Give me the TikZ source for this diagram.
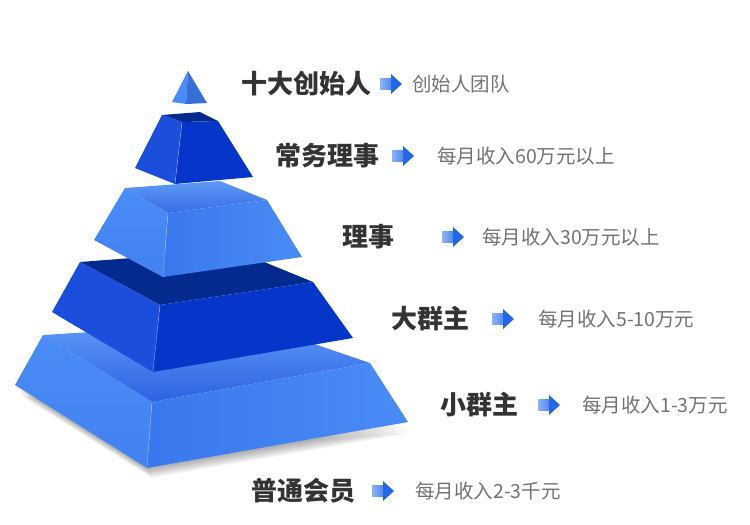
\documentclass[tikz,border=0pt]{standalone}
\usepackage{fontspec}
\usepackage{tikz}
\newfontfamily\cjk{Noto Sans CJK SC}

\definecolor{lightL}{HTML}{4A8CF6}
\definecolor{lightR}{HTML}{3C7CEF}
\definecolor{lightTa}{HTML}{5E9AF6}
\definecolor{lightTb}{HTML}{2C62E2}
\definecolor{darkL}{HTML}{1A4EDB}
\definecolor{darkR}{HTML}{0636C9}
\definecolor{darkT}{HTML}{042A90}
\definecolor{labelgray}{HTML}{333333}
\definecolor{infogray}{HTML}{727272}
\definecolor{arrowlight}{HTML}{8AB6F8}
\definecolor{arrowdark}{HTML}{2466E6}

\tikzset{
  rank/.style={anchor=west, inner sep=0pt, text=labelgray, font=\cjk\bfseries\fontsize{26}{26}\selectfont},
  income/.style={anchor=west, inner sep=0pt, text=infogray, font=\cjk\fontsize{19.5}{19.5}\selectfont},
  crease/.style={white, opacity=0.35, line width=0.6pt},
  lightleft/.style={top color=lightL, bottom color=lightL!75!lightTb},
  lightright/.style={left color=lightR!85!lightTb, right color=lightL},
  nextarrow/.pic={
    \shade[left color=arrowlight, right color=arrowdark!80] (0,-5.5) -- (12,-5.5) -- (12,5.5) -- (0,5.5) -- cycle;
    \fill[arrowdark] (11,-10) -- (22,0) -- (11,10) -- cycle;
  }
}

\begin{document}
\begin{tikzpicture}[x=1pt, y=-1pt]
\useasboundingbox (0,0) rectangle (750,525);

% soft shadow
\foreach \d in {1,...,10}
  \fill[black, opacity=0.035, xshift=0.5*\d pt, yshift=-\d pt] (18,387) -- (147,468) -- (406,423) -- (300,430) -- cycle;

% bottom layer
\shade[top color=lightTa, bottom color=lightTb] (43,335) -- (250,322) -- (370,363) -- (152,402) -- cycle;
\shade[lightleft] (43,335) -- (152,402) -- (147,468) -- (15,385) -- cycle;
\shade[lightright] (152,402) -- (370,363) -- (408,422) -- (147,468) -- cycle;
\draw[crease] (152,402) -- (147,468);

% fourth layer
\fill[darkT] (80,262) -- (235,250) -- (313,282) -- (160,305) -- cycle;
\fill[darkL] (80,262) -- (160,305) -- (153,372) -- (52,312) -- cycle;
\fill[darkR] (160,305) -- (313,282) -- (353,338) -- (153,372) -- cycle;
\draw[crease] (160,305) -- (153,372);

% third layer
\shade[top color=lightTa, bottom color=lightTb!80!lightTa] (125,188) -- (220,181) -- (267,200) -- (168,213) -- cycle;
\shade[lightleft] (125,188) -- (168,213) -- (163,277) -- (94,240) -- cycle;
\shade[lightright] (168,213) -- (267,200) -- (302,257) -- (163,277) -- cycle;
\draw[crease] (168,213) -- (163,277);

% second layer
\fill[darkT] (162,115) -- (200,112) -- (218,121) -- (182,122) -- cycle;
\fill[darkL] (162,115) -- (182,122) -- (175,184) -- (135,168) -- cycle;
\fill[darkR] (182,122) -- (218,121) -- (253,177) -- (175,184) -- cycle;
\draw[crease] (182,122) -- (175,184);

% tip
\fill[lightL] (188,71) -- (186,104) -- (172,102) -- cycle;
\fill[lightR!90!black] (188,71) -- (207,103) -- (186,104) -- cycle;

% labels
\node[rank] (founder) at (241,84) {十大创始人};
\node[rank] (standing) at (275,156) {常务理事};
\node[rank] (director) at (342,237) {理事};
\node[rank] (biggroup) at (391,319) {大群主};
\node[rank] (smallgroup) at (440,405) {小群主};
\node[rank] (member) at (251,491) {普通会员};

\pic at (380,84) {nextarrow};
\pic at (392,156) {nextarrow};
\pic at (442,237) {nextarrow};
\pic at (492,319) {nextarrow};
\pic at (538,405) {nextarrow};
\pic at (372,491) {nextarrow};

\node[income] (founderinc) at (412,84) {创始人团队};
\node[income] (standinginc) at (437,156) {每月收入60万元以上};
\node[income] (directorinc) at (482,237) {每月收入30万元以上};
\node[income] (biggroupinc) at (538,319) {每月收入5-10万元};
\node[income] (smallgroupinc) at (582,405) {每月收入1-3万元};
\node[income] (memberinc) at (415,491) {每月收入2-3千元};
\end{tikzpicture}
\end{document}
